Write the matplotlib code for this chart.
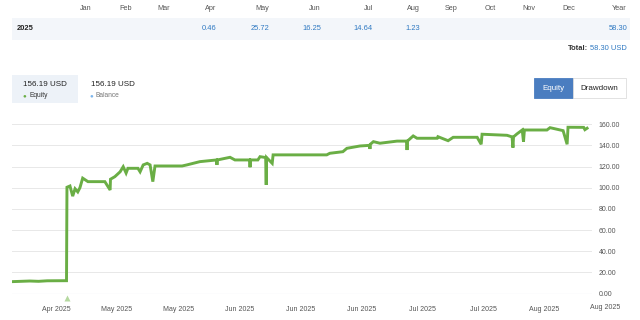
import pandas as pd
import matplotlib
matplotlib.use("Agg")
import matplotlib.pyplot as plt
import matplotlib.dates as mdates
import matplotlib.transforms as mtransforms
from matplotlib.patches import Rectangle

plt.rcParams['font.family'] = ['Liberation Sans', 'DejaVu Sans']

# monthly table
months = ['Jan', 'Feb', 'Mar', 'Apr', 'May', 'Jun', 'Jul', 'Aug', 'Sep', 'Oct', 'Nov', 'Dec', 'Year']
month_values = ['', '', '', '0.46', '25.72', '16.25', '14.64', '1.23', '', '', '', '', '58.30']
year_label = '2025'
total_value = '58.30 USD'
equity_now = '156.19 USD'
balance_now = '156.19 USD'

# equity curve
eq_dates = [
    '2025-04-09 22:00', '2025-04-14 00:00', '2025-04-16 00:00', '2025-04-18 00:00',
    '2025-04-22 10:00', '2025-04-22 12:30', '2025-04-23 05:00', '2025-04-23 20:00',
    '2025-04-24 09:00', '2025-04-25 00:00', '2025-04-25 12:00', '2025-04-26 03:00',
    '2025-04-27 08:00', '2025-05-01 05:00', '2025-05-02 10:00', '2025-05-02 12:00',
    '2025-05-03 12:00', '2025-05-04 17:00', '2025-05-05 10:00', '2025-05-06 02:00',
    '2025-05-06 12:00', '2025-05-08 19:00', '2025-05-09 07:00', '2025-05-10 00:00',
    '2025-05-10 22:00', '2025-05-11 14:00', '2025-05-12 05:00', '2025-05-12 17:00',
    '2025-05-18 22:00', '2025-05-20 00:00', '2025-05-23 00:00', '2025-05-26 20:00',
    '2025-05-26 22:00', '2025-05-27 00:00', '2025-05-29 22:00', '2025-05-31 01:00',
    '2025-06-03 10:00', '2025-06-03 12:00', '2025-06-03 14:00', '2025-06-05 07:00',
    '2025-06-05 19:00', '2025-06-07 02:00', '2025-06-07 05:00', '2025-06-07 07:00',
    '2025-06-08 14:00', '2025-06-08 19:00', '2025-06-21 02:00', '2025-06-21 19:00',
    '2025-06-24 19:00', '2025-06-25 17:00', '2025-06-28 17:00', '2025-06-30 22:00',
    '2025-07-01 00:00', '2025-07-01 02:00', '2025-07-01 19:00', '2025-07-03 07:00',
    '2025-07-07 05:00', '2025-07-09 10:00', '2025-07-09 12:00', '2025-07-09 14:00',
    '2025-07-10 22:00', '2025-07-11 19:00', '2025-07-16 10:00', '2025-07-16 14:00',
    '2025-07-18 22:00', '2025-07-20 02:00', '2025-07-25 14:00', '2025-07-26 12:00',
    '2025-07-26 17:00', '2025-08-01 10:00', '2025-08-02 14:00', '2025-08-02 19:00',
    '2025-08-02 22:00', '2025-08-03 17:00', '2025-08-04 22:00', '2025-08-05 05:00',
    '2025-08-05 10:00', '2025-08-10 14:00', '2025-08-11 07:00', '2025-08-14 07:00',
    '2025-08-15 05:00', '2025-08-15 10:00', '2025-08-19 00:00', '2025-08-19 07:00',
    '2025-08-19 19:00',
]
eq_values = [
    11.2, 11.8, 11.5, 12.0,
    12.1, 100.4, 101.6, 92.0,
    99.0, 96.0, 100.0, 109.0,
    105.7, 105.7, 97.8, 108.0,
    110.4, 115.0, 119.8, 113.8,
    118.3, 118.3, 115.0, 121.5,
    123.0, 121.5, 105.7, 120.5,
    120.5, 121.5, 124.6, 126.2,
    121.5, 126.2, 128.7, 126.2,
    126.2, 119.3, 126.2, 126.2,
    129.3, 128.5, 102.6, 128.5,
    123.0, 131.0, 131.0, 132.5,
    134.0, 137.2, 139.4, 140.0,
    136.6, 141.0, 143.5, 142.0,
    144.0, 144.0, 135.6, 144.0,
    148.9, 146.7, 146.7, 148.2,
    144.4, 147.6, 147.6, 141.0,
    150.5, 149.5, 148.0, 137.8,
    148.0, 150.8, 154.5, 143.5,
    154.5, 154.5, 156.7, 153.9,
    141.0, 157.1, 157.0, 154.8,
    156.2,
]

deposit_date = '2025-04-22 12:30'

xtick_dates = pd.date_range('2025-04-20', periods=10, freq='14D')
yticks = [0, 20, 40, 60, 80, 100, 120, 140, 160]

GREEN = '#6aae45'
BLUE = '#7cb5ec'
LINK = '#2f79c2'
W, H = 640, 320


def fx(px):
    return px / W


def fy(py):
    return 1 - py / H


fig = plt.figure(figsize=(6.4, 3.2), dpi=100)

# --- monthly table ---
fig.patches.append(Rectangle((fx(12), fy(40)), fx(618), 22 / H, transform=fig.transFigure,
                             facecolor='#f3f6fa', edgecolor='none', zorder=0))
right_edges = [92, 132, 170, 216, 269, 321, 373, 420, 457, 496, 535, 575, 627]
for m, v, xr in zip(months, month_values, right_edges):
    fig.text(fx(xr), fy(9), m, ha='right', va='center', fontsize=5.2, color='#555555')
    if v:
        fig.text(fx(xr), fy(29), v, ha='right', va='center', fontsize=5.4, color=LINK)
fig.text(fx(17), fy(29), year_label, ha='left', va='center', fontsize=5.4, color='#222222',
         fontweight='bold')
fig.text(fx(627), fy(49), total_value, ha='right', va='center', fontsize=5.4, color=LINK)
fig.text(fx(588), fy(49), 'Total:', ha='right', va='center', fontsize=5.4, color='#333333',
         fontweight='bold')

# --- legend boxes ---
fig.patches.append(Rectangle((fx(12), fy(103)), 66 / W, 28 / H, transform=fig.transFigure,
                             facecolor='#edf2f8', edgecolor='none', zorder=0))
fig.text(fx(23), fy(85), equity_now, ha='left', va='center', fontsize=5.8, color='#222222')
fig.text(fx(91), fy(85), balance_now, ha='left', va='center', fontsize=5.8, color='#222222')
fig.text(fx(22.5), fy(95.5), '\u25cf', ha='left', va='center', fontsize=4.6, color=GREEN)
fig.text(fx(29), fy(95.5), 'Equity', ha='left', va='center', fontsize=4.8, color='#333333')
fig.text(fx(89.5), fy(95.5), '\u25cf', ha='left', va='center', fontsize=4.6, color=BLUE)
fig.text(fx(96), fy(95.5), 'Balance', ha='left', va='center', fontsize=4.8, color='#777777')

# --- Equity / Drawdown buttons ---
fig.patches.append(Rectangle((fx(534), fy(98)), 39 / W, 20 / H, transform=fig.transFigure,
                             facecolor='#4a7dc0', edgecolor='#4a7dc0', lw=0.6, zorder=0))
fig.patches.append(Rectangle((fx(573), fy(98)), 53 / W, 20 / H, transform=fig.transFigure,
                             facecolor='white', edgecolor='#dddddd', lw=0.6, zorder=0))
fig.text(fx(553.5), fy(88), 'Equity', ha='center', va='center', fontsize=5.8, color='white')
fig.text(fx(599.5), fy(88), 'Drawdown', ha='center', va='center', fontsize=5.8, color='#222222')

# --- chart ---
ax = fig.add_axes([fx(12), fy(293.5), 580 / W, (293.5 - 113.6) / H])
eq_x = pd.to_datetime(eq_dates)
ax.plot(eq_x, eq_values, color=GREEN, lw=2.1, zorder=3, solid_joinstyle='miter')
ax.plot(pd.to_datetime([deposit_date]), [-3.8], marker='^', ms=5, color='#b5d9a0',
        mec='none', clip_on=False, zorder=4)

ax.set_xlim(pd.Timestamp('2025-04-09 22:00'), pd.Timestamp('2025-08-20 22:00'))
ax.set_ylim(0, 170)
ax.set_yticks(yticks)
ax.set_yticklabels([f'{v:.2f}' for v in yticks])
ax.yaxis.tick_right()
ax.grid(axis='y', color='#e8e8e8', lw=0.7)
ax.set_axisbelow(True)
ax.axhline(0, color='#ccd6eb', lw=0.8, zorder=1)

shown = [d for d in xtick_dates if d <= pd.Timestamp('2025-08-20 22:00')]
ax.set_xticks(shown)
ax.xaxis.set_major_formatter(mdates.DateFormatter('%b %Y'))
ax.tick_params(axis='x', length=0, pad=9, labelsize=5.0, labelcolor='#555555')
ax.tick_params(axis='y', length=0, pad=5, labelsize=5.0, labelcolor='#555555')
for s in ax.spines.values():
    s.set_visible(False)

# last tick label sits past the plot edge
trans = mtransforms.blended_transform_factory(ax.transData, ax.transAxes)
last = xtick_dates[-1]
if last not in shown:
    ax.text(mdates.date2num(last), -14.5 / 180, last.strftime('%b %Y'), transform=trans,
            ha='center', va='center', fontsize=5.0, color='#555555', clip_on=False)

fig.savefig('out.png', dpi=100)
